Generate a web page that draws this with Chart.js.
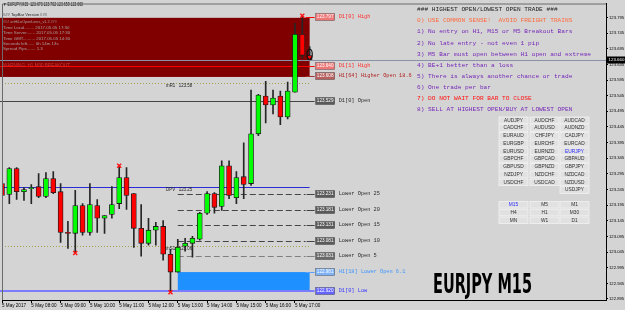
<!DOCTYPE html>
<html>
<head>
<meta charset="utf-8">
<script src="https://cdn.jsdelivr.net/npm/chart.js@4.4.1/dist/chart.umd.min.js"></script>
<style>
  html, body { margin: 0; padding: 0; background: #d4d4d4; overflow: hidden; }
  canvas { display: block; }
</style>
</head>
<body>
<canvas id="chart" width="625" height="310"></canvas>
<script>
// EURJPY M15 — 5 May 2017, 07:00 .. 17:30 (MT4 style, light gray scheme)

const times = ['07:00','07:15','07:30','07:45','08:00','08:15','08:30','08:45','09:00','09:15',
  '09:30','09:45','10:00','10:15','10:30','10:45','11:00','11:15','11:30','11:45',
  '12:00','12:15','12:30','12:45','13:00','13:15','13:30','13:45','14:00','14:15',
  '14:30','14:45','15:00','15:15','15:30','15:45','16:00','16:15','16:30','16:45',
  '17:00','17:15','17:30'];

const opens = [123.264,123.229,123.312,123.238,123.248,123.254,123.223,123.280,123.238,123.108,
  123.105,123.194,123.108,123.194,123.153,123.165,123.200,123.283,123.232,123.121,
  123.073,123.115,123.127,123.038,122.981,123.064,123.073,123.086,123.169,123.232,
  123.191,123.321,123.219,123.286,123.264,123.423,123.544,123.515,123.544,123.477,
  123.556,123.741,123.673];
const highs = [123.343,123.315,123.315,123.251,123.261,123.296,123.299,123.302,123.264,123.143,
  123.242,123.200,123.264,123.213,123.162,123.254,123.318,123.315,123.232,123.197,
  123.153,123.140,123.146,123.054,123.086,123.089,123.095,123.172,123.238,123.235,
  123.337,123.337,123.302,123.394,123.563,123.549,123.591,123.563,123.560,123.588,
  123.776,123.797,123.702];
const lows = [123.219,123.200,123.213,123.210,123.200,123.219,123.219,123.232,123.076,123.057,
  123.045,123.099,123.099,123.108,123.105,123.153,123.184,123.181,123.060,123.032,
  123.067,123.067,123.019,122.920,122.981,123.048,123.029,123.083,123.165,123.169,
  123.178,123.216,123.200,123.216,123.258,123.417,123.458,123.487,123.452,123.471,
  123.556,123.665,123.659];
const closes = [123.226,123.312,123.238,123.245,123.251,123.223,123.280,123.235,123.108,123.105,
  123.194,123.108,123.197,123.153,123.162,123.197,123.283,123.226,123.121,123.073,
  123.115,123.127,123.038,122.981,123.060,123.073,123.089,123.169,123.232,123.188,
  123.321,123.226,123.283,123.261,123.423,123.547,123.515,123.537,123.477,123.560,
  123.741,123.674,123.660];

const xTickIdx = [0, 4, 8, 12, 16, 20, 24, 28, 32, 36, 40];
const xTickLabels = ['5 May 2017','5 May 08:00','5 May 09:00','5 May 10:00','5 May 11:00','5 May 12:00',
  '5 May 13:00','5 May 14:00','5 May 15:00','5 May 16:00','5 May 17:00'];
const yTicks = [122.895,122.945,122.995,123.045,123.095,123.145,123.195,123.245,123.295,123.345,
  123.395,123.445,123.495,123.545,123.595,123.645,123.695,123.745,123.795];

// indicator levels (anHiLoOpenLines)
const levelNames = ['D1[0] High','D1[1] High','H1[64] Higher Open 18.6','D1[0] Open','Lower Open 25',
  'Lower Open 20','Lower Open 15','Lower Open 10','Lower Open 5','H1[18] Lower Open 6.1','D1[0] Low'];
const levelValues = [123.797,123.640,123.608,123.529,123.231,123.181,123.131,123.081,123.031,122.981,122.920];

const pivotNames = ['mR1','DPV','mS1'];
const pivotValues = [123.585,123.254,123.063];

const bidPrice = 123.660;
const markBars = [10, 16, 23, 41];   // red X on swing extremes

const infoLines = ['### anHiLoOpenLines_v1.2 ###','Time Local........ 2017.05.05 17:30',
  'Time Server....... 2017.05.05 17:30','Time GMT.......... 2017.05.05 14:30',
  'Seconds left...... 0h 14m 13s','Spread Pips....... 1.3'];

const ruleLines = ['### HIGHEST OPEN/LOWEST OPEN TRADE ###',
  '0) USE COMMON SENSE!  AVOID FREIGHT TRAINS',
  '1) No entry on H1, M15 or M5 Breakout Bars',
  '2) No late entry - not even 1 pip',
  '3) M5 Bar must open between H1 open and extreme',
  '4) BE+1 better than a loss',
  '5) There is always another chance or trade',
  '6) One trade per bar',
  '7) DO NOT WAIT FOR BAR TO CLOSE',
  '8) SELL AT HIGHEST OPEN/BUY AT LOWEST OPEN'];

const pairRows = [['AUDJPY','AUDCHF','AUDCAD'],['CADCHF','AUDUSD','AUDNZD'],['EURAUD','CHFJPY','CADJPY'],
  ['EURGBP','EURCHF','EURCAD'],['EURUSD','EURNZD','EURJPY'],['GBPCHF','GBPCAD','GBPAUD'],
  ['GBPUSD','GBPNZD','GBPJPY'],['NZDJPY','NZDCHF','NZDCAD'],['USDCHF','USDCAD','NZDUSD'],['','','USDJPY']];
const tfRows = [['M15','M5','M1'],['H4','H1','M30'],['MN','W1','D1']];

// styles per level line: where the line starts, colours of line / price box / caption
const levelStyle = [
  { from: 'now',  line: '#ff0000', box: '#ee7878', text: '#ff2a2a' },
  { from: 'left', line: '#ff0000', box: '#ee7878', text: '#ff2a2a' },
  { from: 'now',  line: '#a03030', box: '#b86060', text: '#b02020' },
  { from: 'left', line: '#454545', box: '#5a5a5a', text: '#2a2a2a' },
  { from: 'low',  line: '#454545', box: '#5a5a5a', text: '#2a2a2a', dash: [6, 3] },
  { from: 'low',  line: '#454545', box: '#5a5a5a', text: '#2a2a2a', dash: [6, 3] },
  { from: 'low',  line: '#454545', box: '#5a5a5a', text: '#2a2a2a', dash: [6, 3] },
  { from: 'low',  line: '#454545', box: '#5a5a5a', text: '#2a2a2a', dash: [6, 3] },
  { from: 'low',  line: '#808080', box: '#6a6a6a', text: '#2a2a2a', dash: [6, 3] },
  { from: 'now',  line: '#5aa0ff', box: '#7fb2f4', text: '#3d95ff' },
  { from: 'left', line: '#7c7cff', box: '#6464ff', text: '#3535ff', width: 2 }
];
const ruleColors = ['#202020','#ff6a3d','#7424b8','#7424b8','#7424b8','#7424b8','#7424b8','#7424b8','#ff1010','#7424b8'];

const SANS = "'Liberation Sans', 'DejaVu Sans', sans-serif";
const MONO = "'Liberation Mono', 'DejaVu Sans Mono', monospace";

function text(ctx, s, x, y, font, color, maxW, align) {
  ctx.font = font;
  ctx.fillStyle = color;
  ctx.textAlign = align || 'left';
  ctx.textBaseline = 'middle';
  if (maxW) ctx.fillText(s, x, y, maxW); else ctx.fillText(s, x, y);
}

const lowOpenBar = opens.indexOf(Math.min(...opens));

const overlay = {
  id: 'overlay',
  beforeDraw(chart) {
    const ctx = chart.ctx;
    ctx.save();
    ctx.fillStyle = '#d4d4d4';
    ctx.fillRect(0, 0, chart.width, chart.height);
    ctx.restore();
  },
  beforeDatasetsDraw(chart) {
    const { ctx, chartArea: a, scales: { x, y } } = chart;
    const xNow = x.getPixelForValue(times.length - 1);
    const xLow = x.getPixelForValue(lowOpenBar);
    const lineEnd = xNow + 5;
    ctx.save();

    // higher-open zone (D1 high -> H1 higher open)
    const zTop = y.getPixelForValue(levelValues[0]) + 1;
    const zBot = y.getPixelForValue(levelValues[2]) + 1;
    ctx.fillStyle = '#800000';
    ctx.fillRect(0, zTop, xNow, zBot - zTop);

    // lower-open zone (H1 lower open -> D1 low)
    const bTop = y.getPixelForValue(levelValues[9]);
    const bBot = y.getPixelForValue(levelValues[10]);
    ctx.fillStyle = '#1e90ff';
    ctx.fillRect(xLow, bTop, xNow - xLow, bBot - bTop);

    // pivots
    pivotValues.forEach((v, i) => {
      const py = Math.round(y.getPixelForValue(v)) + 0.5;
      ctx.beginPath();
      if (pivotNames[i] === 'DPV') { ctx.strokeStyle = '#2a2ad8'; ctx.setLineDash([]); }
      else { ctx.strokeStyle = '#a3a04a'; ctx.setLineDash([1, 2]); }
      ctx.lineWidth = 1;
      ctx.moveTo(a.left, py); ctx.lineTo(xNow, py); ctx.stroke();
      ctx.setLineDash([]);
      text(ctx, pivotNames[i] + '   ' + v.toFixed(2), x.getPixelForValue(22.4), py + 2.5,
        '4.6px ' + SANS, '#202020', 26);
    });

    // level lines
    levelValues.forEach((v, i) => {
      const st = levelStyle[i];
      const py = Math.round(y.getPixelForValue(v)) + (st.width === 2 ? 0 : 0.5);
      const x0 = st.from === 'left' ? 0 : st.from === 'low' ? xLow : xNow - 4;
      ctx.strokeStyle = st.line;
      ctx.lineWidth = st.width || 1;
      ctx.setLineDash(st.dash || []);
      ctx.beginPath(); ctx.moveTo(x0, py); ctx.lineTo(st.dash ? xNow - 4 : lineEnd, py); ctx.stroke();
      ctx.setLineDash([]);
      if (st.dash) { ctx.beginPath(); ctx.moveTo(xNow - 3, py); ctx.lineTo(lineEnd, py); ctx.stroke(); }
    });

    // bid line
    const by = Math.round(y.getPixelForValue(bidPrice)) + 0.5;
    ctx.strokeStyle = '#8a92a8';
    ctx.lineWidth = 1;
    ctx.beginPath(); ctx.moveTo(0, by); ctx.lineTo(a.right, by); ctx.stroke();

    // info box text
    const infoY = [22, 28, 33, 39, 44, 49];
    infoLines.forEach((s, i) => {
      text(ctx, s, 3, infoY[i], '4.4px ' + SANS, '#a9a0a0', s.length * 1.92);
    });
    text(ctx, 'WARNING: H1 M30 BREAKOUT', 3, 66, '4.6px ' + SANS, '#d23a3a', 67);
    text(ctx, '### TopBar Version ###', 3, 15, '4.4px ' + SANS, '#202020', 44);
    ctx.restore();
  },
  afterDatasetsDraw(chart) {
    const { ctx, chartArea: a, scales: { x, y } } = chart;
    const xNow = x.getPixelForValue(times.length - 1);
    const lineEnd = xNow + 5;
    ctx.save();

    // swing marks
    ctx.strokeStyle = '#ff1010';
    ctx.lineWidth = 1.4;
    markBars.forEach(i => {
      const isHigh = highs[i] >= Math.max(highs[i - 1], highs[i + 1]) && i !== 10 && i !== 23;
      const px = x.getPixelForValue(i);
      const py = isHigh ? y.getPixelForValue(highs[i]) - 1 : y.getPixelForValue(lows[i]) + 1;
      ctx.beginPath();
      ctx.moveTo(px - 2, py - 2); ctx.lineTo(px + 2, py + 2);
      ctx.moveTo(px + 2, py - 2); ctx.lineTo(px - 2, py + 2);
      ctx.stroke();
    });

    // current bar marker
    const last = times.length - 1;
    ctx.strokeStyle = '#101010';
    ctx.lineWidth = 1.2;
    ctx.beginPath();
    ctx.ellipse(xNow, (y.getPixelForValue(highs[last]) + y.getPixelForValue(lows[last])) / 2 + 1, 2.6, 5, 0, 0, Math.PI * 2);
    ctx.stroke();

    // price boxes + captions
    levelValues.forEach((v, i) => {
      const st = levelStyle[i];
      const py = Math.round(y.getPixelForValue(v));
      const bx = lineEnd + 1;
      ctx.fillStyle = st.box;
      ctx.fillRect(bx, py - 3.5, 19, 7);
      ctx.strokeStyle = 'rgba(40,40,40,0.6)';
      ctx.lineWidth = 0.6;
      ctx.strokeRect(bx, py - 3.5, 19, 7);
      text(ctx, v.toFixed(3), bx + 9.5, py, '4.6px ' + SANS, '#ffffff', 17, 'center');
      text(ctx, levelNames[i], bx + 23, py, '5.3px ' + MONO, st.text, levelNames[i].length * 3.2);
    });

    // trading rules panel
    ruleLines.forEach((s, i) => {
      text(ctx, s, 417, 9.6 + i * 11.1, '6.2px ' + MONO, ruleColors[i], s.length * 3.7);
    });

    // symbol / timeframe buttons
    const colX = [499, 530, 560];
    const drawBtn = (label, bx, by) => {
      if (!label) return;
      ctx.fillStyle = '#e1e1e1';
      ctx.fillRect(bx, by, 29, 6.6);
      ctx.strokeStyle = '#f2f2f2';
      ctx.lineWidth = 0.8;
      ctx.strokeRect(bx, by, 29, 6.6);
      const hot = label === 'EURJPY' || label === 'M15';
      text(ctx, label, bx + 14.5, by + 3.4, '4.8px ' + SANS, hot ? '#2a2aff' : '#303030', 26, 'center');
    };
    pairRows.forEach((row, r) => row.forEach((p, c) => drawBtn(p, colX[c], 117 + r * 7.75)));
    tfRows.forEach((row, r) => row.forEach((p, c) => drawBtn(p, colX[c], 201.5 + r * 7.75)));

    // big symbol caption
    ctx.font = "bold 27px 'Liberation Sans Narrow', 'DejaVu Sans Condensed', 'DejaVu Sans', sans-serif";
    ctx.fillStyle = '#000000';
    ctx.textAlign = 'left';
    ctx.textBaseline = 'alphabetic';
    ctx.fillText('EURJPY M15', 433, 292.5, 99);

    // header
    const h = times.length - 1;
    text(ctx, '\u25BC EURJPY,M15  ' + opens[h].toFixed(3) + ' ' + highs[h].toFixed(3) + ' ' +
      lows[h].toFixed(3) + ' ' + closes[h].toFixed(3), 3, 5, '4.8px ' + SANS, '#000000', 80);

    // chart frame (left / top)
    ctx.strokeStyle = '#6a6a6a';
    ctx.lineWidth = 1;
    ctx.beginPath();
    ctx.moveTo(a.left + 0.5, a.bottom); ctx.lineTo(a.left + 0.5, a.top + 0.5); ctx.lineTo(a.right, a.top + 0.5);
    ctx.stroke();
    ctx.restore();
  },
  afterDraw(chart) {
    const { ctx, chartArea: a, scales: { y } } = chart;
    const py = Math.round(y.getPixelForValue(bidPrice));
    ctx.save();
    ctx.fillStyle = '#000000';
    ctx.fillRect(a.right, py - 3.5, 19, 7);
    text(ctx, bidPrice.toFixed(3), a.right + 2.5, py, '4.4px ' + SANS, '#ffffff', 16);
    ctx.restore();
  }
};

const candleColors = opens.map((o, i) => closes[i] >= o ? '#00ff00' : '#ff0000');

new Chart(document.getElementById('chart').getContext('2d'), {
  type: 'bar',
  data: {
    datasets: [
      {
        label: 'wick',
        data: times.map((t, i) => ({ x: i, y: [lows[i], highs[i]] })),
        backgroundColor: '#262626',
        barThickness: 1,
        grouped: false,
        order: 2
      },
      {
        label: 'body',
        data: times.map((t, i) => ({ x: i, y: [opens[i], closes[i]] })),
        backgroundColor: candleColors,
        borderColor: '#1c1c1c',
        borderWidth: 0.8,
        borderSkipped: false,
        barThickness: 5,
        minBarLength: 1,
        grouped: false,
        order: 1
      }
    ]
  },
  options: {
    responsive: false,
    animation: false,
    events: [],
    layout: { padding: { left: 2, top: 2, right: 0, bottom: 0 } },
    plugins: { legend: { display: false }, tooltip: { enabled: false } },
    scales: {
      x: {
        type: 'linear',
        min: 0,
        max: 82.46,
        offset: false,
        afterBuildTicks: s => { s.ticks = xTickIdx.map(v => ({ value: v })); },
        afterFit: s => { s.height = 10; },
        ticks: {
          autoSkip: false, maxRotation: 0, minRotation: 0, align: 'start', padding: 0,
          color: '#000', font: { size: 4.6, family: SANS },
          callback: (v, i) => xTickLabels[i]
        },
        grid: { display: true, drawOnChartArea: false, tickLength: 3, color: '#000', offset: false },
        border: { display: true, color: '#000' }
      },
      y: {
        position: 'right',
        min: 122.8918,
        max: 123.8395,
        beginAtZero: false,
        afterBuildTicks: s => { s.ticks = yTicks.map(v => ({ value: v })); },
        afterFit: s => { s.width = 19; },
        ticks: {
          autoSkip: false, padding: 1, color: '#000', font: { size: 4.2, family: SANS },
          callback: v => Number(v).toFixed(3)
        },
        grid: { display: true, drawOnChartArea: false, tickLength: 2, color: '#000' },
        border: { display: true, color: '#000' }
      }
    }
  },
  plugins: [overlay]
});
</script>
</body>
